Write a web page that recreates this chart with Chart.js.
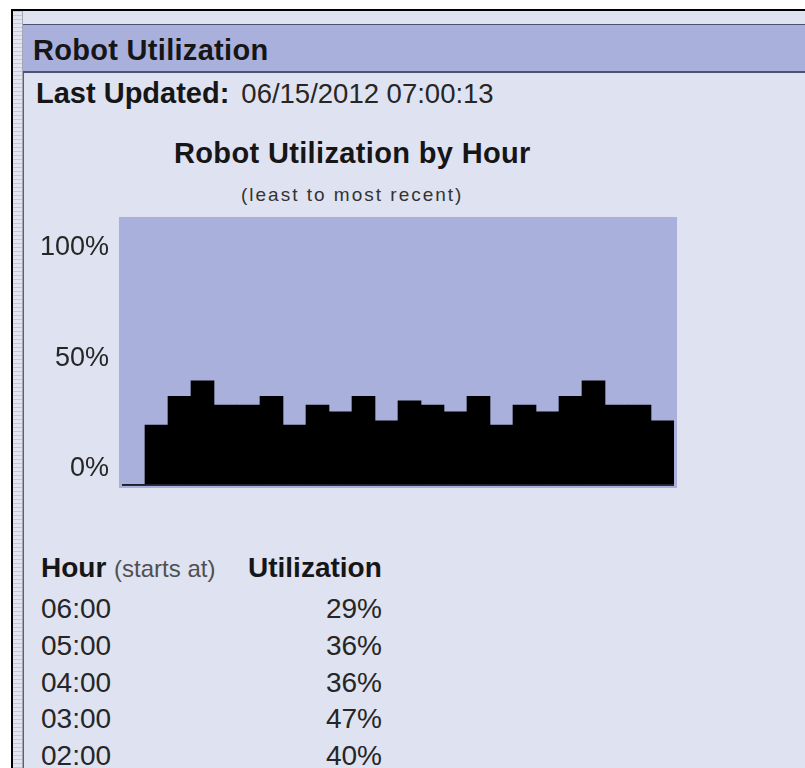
<!DOCTYPE html>
<html>
<head>
<meta charset="utf-8">
<title>Robot Utilization</title>
<script src="https://cdn.jsdelivr.net/npm/chart.js@4.4.0/dist/chart.umd.min.js"></script>
<style>
  html, body {
    margin: 0; padding: 0; width: 805px; height: 768px; overflow: hidden;
    background: #fff; font-family: "Liberation Sans", Arial, sans-serif;
  }
  #frame {
    position: absolute; left: 11px; top: 9px; right: 0; bottom: 0;
    border-left: 2px solid #000; border-top: 2px solid #000; background: #dfe2f0;
  }
  #ruler {
    position: absolute; left: 13px; top: 11px; width: 9px; bottom: 0;
    background: repeating-linear-gradient(to bottom, #c6c8d6 0 1px, #e3e5f1 1px 4px);
    border-right: 1px solid #a3a5b6;
  }
  #panel { position: absolute; left: 23px; top: 24px; right: 0; bottom: 0; border-left: 1px solid #5c5f72; }
  #header {
    position: absolute; left: 23px; top: 24px; right: 0; height: 46px;
    background: #a9b0dc; border-top: 1px solid #4c5270; border-bottom: 2px solid #4c5270;
  }
  .t { position: absolute; line-height: 1; white-space: nowrap; color: #161616; }
  .b { font-weight: bold; }
  #plot { position: absolute; left: 0; top: 200px; width: 700px; height: 302px; }
</style>
</head>
<body>
<div id="frame"></div>
<div id="ruler"></div>
<div id="panel"></div>
<div id="header"></div>

<div class="t b" style="left:33px; top:35.5px; font-size:29px; letter-spacing:0.3px;">Robot Utilization</div>
<div class="t" style="left:36px; top:78.5px; font-size:29px;">
  <span class="b">Last Updated:</span><span style="margin-left:12px; font-size:27.5px; color:#262626;">06/15/2012 07:00:13</span>
</div>
<div class="t b" style="left:174px; top:138.5px; font-size:29px; letter-spacing:0.35px;">Robot Utilization by Hour</div>
<div class="t" style="left:241px; top:185px; font-size:19px; letter-spacing:2px; color:#333;">(least to most recent)</div>

<div id="plot"><canvas id="chart"></canvas></div>

<div class="t" style="left:41px; top:554px; font-size:28px;">
  <span class="b">Hour</span> <span style="font-size:24px; color:#505050;">(starts at)</span>
</div>
<div class="t b" style="left:248px; top:554px; font-size:28px;">Utilization</div>
<div id="table"></div>

<script>
// hourly utilization, least to most recent
const hours = [
  '07:00', '08:00', '09:00', '10:00', '11:00', '12:00', '13:00', '14:00',
  '15:00', '16:00', '17:00', '18:00', '19:00', '20:00', '21:00', '22:00',
  '23:00', '00:00', '01:00', '02:00', '03:00', '04:00', '05:00', '06:00'
];
const utilization = [
  0, 27, 40, 47, 36, 36, 40, 27,
  36, 33, 40, 29, 38, 36, 33, 40,
  27, 36, 33, 40, 47, 36, 36, 29
];
const yTicks = [0, 50, 100];
const tableRows = 5;

Chart.defaults.font.family = '"Liberation Sans", Arial, sans-serif';

// lavender box slightly larger than the plot area
const plotBackground = {
  id: 'plotBackground',
  beforeDraw(chart) {
    const { ctx, chartArea: a } = chart;
    ctx.save();
    ctx.fillStyle = '#a9b0dc';
    ctx.fillRect(a.left - 3, a.top - 2, a.width + 6, a.height + 5);
    ctx.restore();
  }
};

new Chart(document.getElementById('chart').getContext('2d'), {
  type: 'bar',
  data: {
    labels: hours,
    datasets: [{
      data: utilization,
      backgroundColor: '#000',
      borderWidth: 0,
      barPercentage: 1,
      categoryPercentage: 1,
    }]
  },
  options: {
    responsive: true,
    maintainAspectRatio: false,
    animation: false,
    layout: { padding: { top: 19, right: 26, bottom: 17, left: 0 } },
    plugins: { legend: { display: false }, tooltip: { enabled: false } },
    scales: {
      x: { display: false },
      y: {
        min: 0,
        max: 120,
        afterBuildTicks: axis => { axis.ticks = yTicks.map(v => ({ value: v })); },
        afterFit: axis => { axis.width = 122; axis.paddingTop = 0; axis.paddingBottom = 0; },
        border: { display: false },
        grid: {
          drawTicks: false,
          lineWidth: 2,
          color: ctx => (ctx.tick && ctx.tick.value === 0 ? '#2b2e3a' : 'rgba(0,0,0,0)'),
        },
        ticks: {
          padding: 13,
          labelOffset: -16,
          color: '#262626',
          font: { size: 27 },
          callback: v => v + '%',
        }
      }
    }
  },
  plugins: [plotBackground]
});

// table below the chart, most recent hour first
const table = document.getElementById('table');
for (let i = 0; i < tableRows; i++) {
  const k = hours.length - 1 - i;
  const top = 595 + i * 36.8;
  const hour = document.createElement('div');
  hour.className = 't';
  hour.style.cssText = `left:41px; top:${top}px; font-size:28px; color:#262626;`;
  hour.textContent = hours[k];
  const pct = document.createElement('div');
  pct.className = 't';
  pct.style.cssText = `left:248px; width:134px; text-align:right; top:${top}px; font-size:28px; color:#262626;`;
  pct.textContent = utilization[k] + '%';
  table.appendChild(hour);
  table.appendChild(pct);
}
</script>
</body>
</html>
